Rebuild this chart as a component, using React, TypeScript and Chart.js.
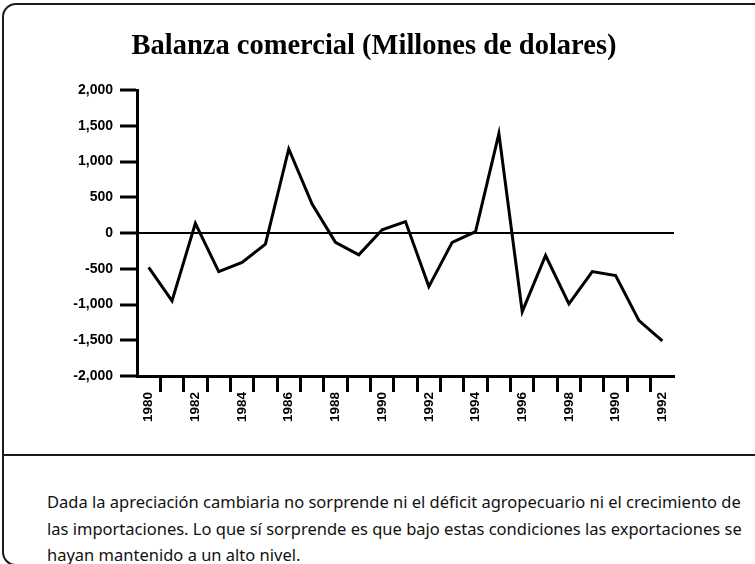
import React, { useEffect, useRef } from "react";
import { Chart, registerables } from "chart.js";

Chart.register(...registerables);

const title = "Balanza comercial (Millones de dolares)";

const categories = [
  "1980", "1981", "1982", "1983", "1984", "1985", "1986", "1987", "1988", "1989",
  "1990", "1991", "1992", "1993", "1994", "1995", "1996", "1997", "1998", "1999",
  "1990", "1991", "1992",
];

const balance = [
  -480, -950, 135, -540, -410, -155, 1175, 405, -130, -305,
  45, 160, -750, -130, 20, 1390, -1100, -315, -990, -540,
  -595, -1225, -1510,
];

const yMin = -2000;
const yMax = 2000;
const yStep = 500;

const footerLines = [
  "Dada la apreciación cambiaria no sorprende ni el déficit agropecuario ni el crecimiento de",
  "las importaciones. Lo que sí sorprende es que bajo estas condiciones las exportaciones se",
  "hayan mantenido a un alto nivel.",
];

export default function App() {
  const ref = useRef<HTMLCanvasElement>(null);

  useEffect(() => {
    const tickFont = { family: "'Liberation Sans', Arial, sans-serif", size: 14, weight: "bold" as const };
    const xTickFont = { family: "'Liberation Sans', Arial, sans-serif", size: 13.5, weight: "bold" as const };
    const chart = new Chart(ref.current!, {
      type: "line",
      data: {
        labels: categories,
        datasets: [
          {
            data: balance,
            borderColor: "#000",
            borderWidth: 3,
            pointRadius: 0,
            tension: 0,
            fill: false,
          },
        ],
      },
      options: {
        animation: false,
        responsive: false,
        devicePixelRatio: 1,
        layout: { padding: { left: 0, right: 7, top: 0, bottom: 0 } },
        plugins: {
          legend: { display: false },
          tooltip: { enabled: false },
          title: {
            display: true,
            text: title,
            color: "#000",
            font: { family: "'Liberation Serif', serif", size: 28.5, weight: "bold", lineHeight: 1.2 },
            padding: { top: 29.5, bottom: 26.3 },
          },
        },
        scales: {
          x: {
            type: "category",
            offset: true,
            grid: {
              offset: true,
              drawOnChartArea: false,
              tickLength: 16,
              tickWidth: 3,
              tickColor: (c: any) => (c.type === "tick" && c.index > 0 ? "#000" : "rgba(0,0,0,0)"),
            },
            border: { color: "#000", width: 3 },
            ticks: {
              autoSkip: false,
              maxRotation: 90,
              minRotation: 90,
              padding: 0,
              color: "#000",
              font: xTickFont,
              callback: (_v: any, i: number) => (i % 2 === 0 ? categories[i] : ""),
            },
            afterFit: (s: any) => {
              s.height = 74;
            },
          },
          y: {
            min: yMin,
            max: yMax,
            ticks: {
              stepSize: yStep,
              padding: 7,
              color: "#000",
              font: tickFont,
              callback: (v: any) => Number(v).toLocaleString("en-US"),
            },
            grid: {
              drawOnChartArea: true,
              color: (c: any) => (c.tick && c.tick.value === 0 ? "#000" : "rgba(0,0,0,0)"),
              lineWidth: 2,
              tickLength: 17,
              tickWidth: 3,
              tickColor: "#000",
            },
            border: { color: "#000", width: 3 },
            afterFit: (s: any) => {
              s.width = 137;
            },
          },
          y2: {
            type: "linear",
            position: "right",
            display: true,
            min: yMin,
            max: yMax,
            grid: { display: false, drawTicks: false },
            border: { display: false },
            ticks: { display: false },
            afterFit: (s: any) => {
              s.width = 74;
            },
          },
        },
      },
    });
    return () => chart.destroy();
  }, []);

  return (
    <div
      style={{
        position: "fixed",
        left: 0,
        top: 0,
        width: 755,
        height: 564,
        overflow: "hidden",
        background: "#fff",
      }}
    >
      <div
        style={{
          position: "absolute",
          left: 2,
          top: 3,
          width: 800,
          height: 563,
          border: "2px solid #1a1a1a",
          borderRadius: 14,
          boxSizing: "border-box",
        }}
      />
      <div
        style={{
          position: "absolute",
          left: 2,
          top: 454,
          width: 800,
          height: 0,
          borderTop: "2px solid #1a1a1a",
        }}
      />
      <canvas
        ref={ref}
        width={755}
        height={450}
        style={{ position: "absolute", left: 0, top: 0, width: 755, height: 450 }}
      />
      <div
        style={{
          position: "absolute",
          left: 47,
          top: 489,
          fontFamily: "'Noto Sans', sans-serif",
          fontSize: 16.5,
          lineHeight: "26.5px",
          color: "#111",
          whiteSpace: "nowrap",
        }}
      >
        {footerLines.map((l, i) => (
          <div key={i}>{l}</div>
        ))}
      </div>
    </div>
  );
}
